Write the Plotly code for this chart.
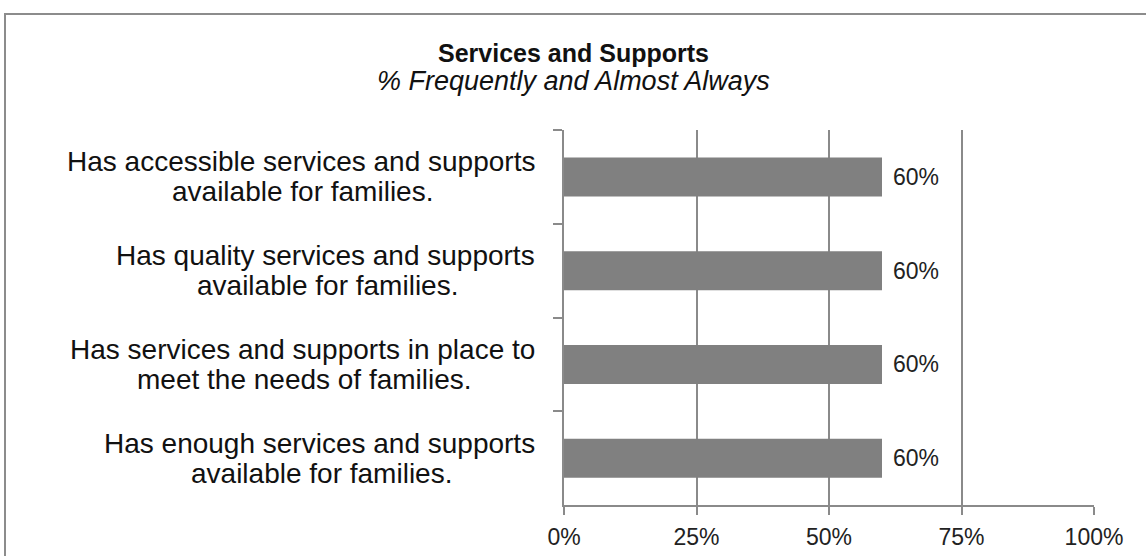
import plotly.graph_objects as go

# Survey items, listed top to bottom (each split into its two display lines)
label_lines = [
    ("Has accessible services and supports", "available for families."),
    ("Has quality services and supports", "available for families."),
    ("Has services and supports in place to", "meet the needs of families."),
    ("Has enough services and supports", "available for families."),
]
categories = ["<br>".join(p) for p in label_lines]
values = [60, 60, 60, 60]
tick_vals = [0, 25, 50, 75, 100]
tick_text = ["0%", "25%", "50%", "75%", "100%"]

W, H = 1146, 556
L, R, T, B = 564, 52, 130, 51
pw, ph = W - L - R, H - T - B

FONT = "Liberation Sans, Arial, sans-serif"
GRAY = "#8a8a8a"
LABEL_SIZE = 28

# Arial advance widths (1/1000 em) used to centre the second label line under the first
ARIAL_W = {
    " ": 278, ".": 278, "H": 722, "a": 556, "b": 556, "c": 500, "d": 556, "e": 556,
    "f": 278, "g": 556, "h": 556, "i": 222, "l": 222, "m": 833, "n": 556, "o": 556,
    "p": 556, "q": 556, "r": 333, "s": 500, "t": 278, "u": 556, "v": 500, "y": 500,
}


def text_width(s, size):
    return sum(ARIAL_W.get(ch, 556) for ch in s) * size / 1000.0


fig = go.Figure()
fig.add_trace(go.Bar(
    y=categories, x=values, orientation="h",
    marker=dict(color="#808080", line=dict(width=0)),
    hoverinfo="skip",
))

# value labels to the right of each bar
for c, v in zip(categories, values):
    fig.add_annotation(x=v, y=c, xref="x", yref="y", text=f"{v}%",
                       showarrow=False, xanchor="left", xshift=9,
                       font=dict(family=FONT, size=23, color="#222"))

# category labels: first line right-aligned near the axis, second line centred beneath it
right_px = 537
for c, (l1, l2) in zip(categories, label_lines):
    w1 = text_width(l1, LABEL_SIZE)
    centre_px = right_px - w1 / 2
    fig.add_annotation(x=(right_px - L) / pw, y=c, xref="paper", yref="y", text=l1,
                       showarrow=False, xanchor="right", yshift=15,
                       font=dict(family=FONT, size=LABEL_SIZE, color="#111"))
    fig.add_annotation(x=(centre_px - L) / pw, y=c, xref="paper", yref="y", text=l2,
                       showarrow=False, xanchor="center", yshift=-15,
                       font=dict(family=FONT, size=LABEL_SIZE, color="#111"))

# title and subtitle
fig.add_annotation(x=(W / 2 - L) / pw, y=(H - B - 53) / ph, xref="paper", yref="paper",
                   text="<b>Services and Supports</b>", showarrow=False,
                   xanchor="center", yanchor="middle",
                   font=dict(family=FONT, size=25, color="#111"))
fig.add_annotation(x=(W / 2 - L) / pw, y=(H - B - 81) / ph, xref="paper", yref="paper",
                   text="<i>% Frequently and Almost Always</i>", showarrow=False,
                   xanchor="center", yanchor="middle",
                   font=dict(family=FONT, size=27, color="#111"))

# outer frame (only its top and left edges fall inside the page)
fig.add_shape(type="path", xref="paper", yref="paper",
              path=f"M {(5 - L) / pw} {(H - B - (H + 100)) / ph} "
                   f"L {(5 - L) / pw} {(H - B - 14) / ph} "
                   f"L {(W + 100 - L) / pw} {(H - B - 14) / ph}",
              line=dict(color="#8c8c8c", width=2))

fig.update_layout(
    template="none",
    width=W, height=H,
    margin=dict(l=L, r=R, t=T, b=B, autoexpand=False),
    paper_bgcolor="white", plot_bgcolor="white",
    showlegend=False, bargap=0.584,
    font=dict(family=FONT, color="#111"),
    xaxis=dict(range=[0, 100], tickvals=tick_vals, ticktext=tick_text,
               automargin=False,
               showgrid=True, gridcolor=GRAY, gridwidth=1.5,
               showline=True, linecolor=GRAY, linewidth=1.5,
               ticks="outside", ticklen=8, tickcolor=GRAY, tickwidth=1.5,
               ticklabelstandoff=3,
               tickfont=dict(family=FONT, size=23, color="#222"),
               zeroline=False, fixedrange=True),
    yaxis=dict(categoryorder="array", categoryarray=categories, autorange="reversed",
               automargin=False,
               showticklabels=False, showgrid=False, tickson="boundaries",
               showline=True, linecolor=GRAY, linewidth=1.5,
               ticks="outside", ticklen=9, tickcolor=GRAY, tickwidth=1.5,
               zeroline=False, fixedrange=True),
)

fig.write_html("out.html")
